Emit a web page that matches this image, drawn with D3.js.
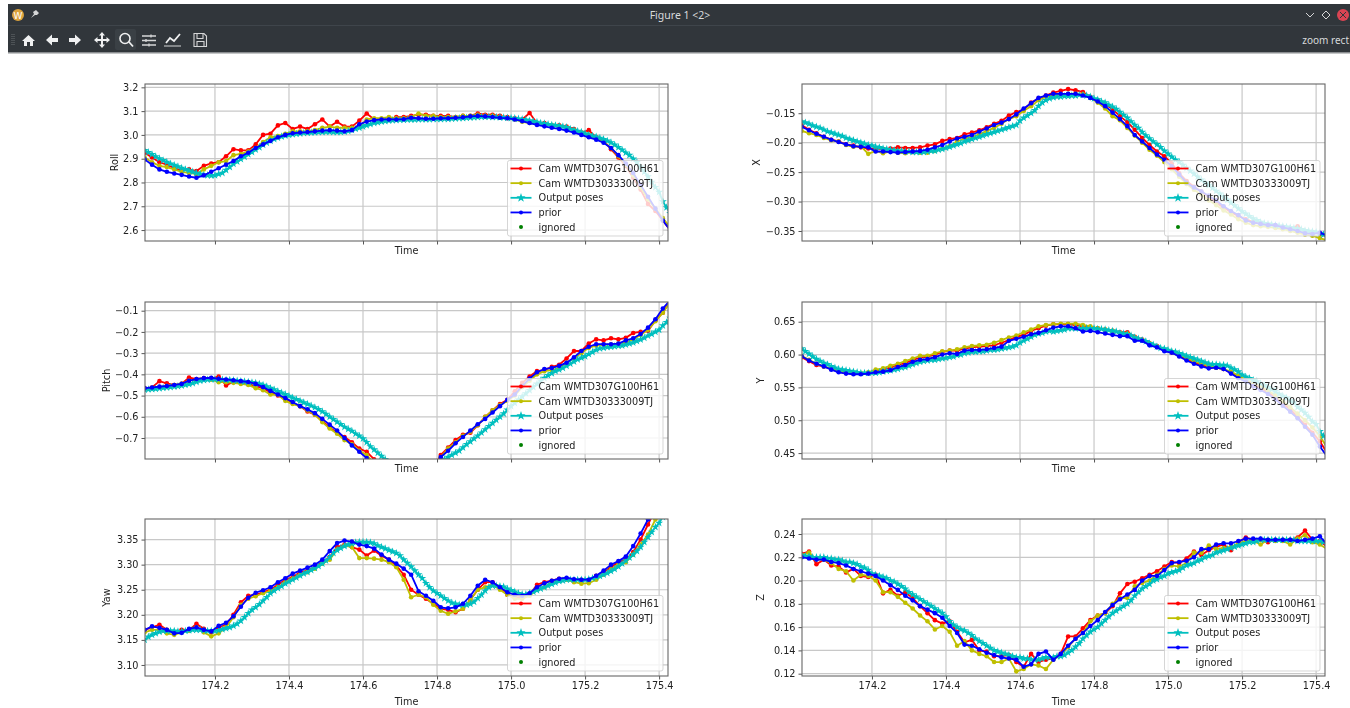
<!DOCTYPE html>
<html>
<head>
    <meta charset="utf-8">
    <title>Figure 1 &lt;2&gt;</title>
    <script src="https://d3js.org/d3.v7.min.js"></script>
</head>
<body style="margin: 0; background: #fff">
<svg width="1350" height="708" style="display: block; filter: blur(0.45px)"></svg>

<script>
    // Sample times (seconds)
    const camTimes = [174.01,174.03,174.05,174.07,174.09,174.11,174.13,174.15,174.17,174.19,174.21,174.23,174.25,174.27,174.29,174.31,174.33,174.35,174.37,174.39,174.41,174.43,174.45,174.47,174.49,174.51,174.53,174.55,174.57,174.59,174.61,174.63,174.65,174.67,174.69,174.71,174.73,174.75,174.77,174.79,174.81,174.83,174.85,174.87,174.89,174.91,174.93,174.95,174.97,174.99,175.01,175.03,175.05,175.07,175.09,175.11,175.13,175.15,175.17,175.19,175.21,175.23,175.25,175.27,175.29,175.31,175.33,175.35,175.37,175.39,175.41,175.43];
    const poseTimes = [174.01,174.02,174.03,174.04,174.05,174.06,174.07,174.08,174.09,174.10,174.11,174.12,174.13,174.14,174.15,174.16,174.17,174.18,174.19,174.20,174.21,174.22,174.23,174.24,174.25,174.26,174.27,174.28,174.29,174.30,174.31,174.32,174.33,174.34,174.35,174.36,174.37,174.38,174.39,174.40,174.41,174.42,174.43,174.44,174.45,174.46,174.47,174.48,174.49,174.50,174.51,174.52,174.53,174.54,174.55,174.56,174.57,174.58,174.59,174.60,174.61,174.62,174.63,174.64,174.65,174.66,174.67,174.68,174.69,174.70,174.71,174.72,174.73,174.74,174.75,174.76,174.77,174.78,174.79,174.80,174.81,174.82,174.83,174.84,174.85,174.86,174.87,174.88,174.89,174.90,174.91,174.92,174.93,174.94,174.95,174.96,174.97,174.98,174.99,175.00,175.01,175.02,175.03,175.04,175.05,175.06,175.07,175.08,175.09,175.10,175.11,175.12,175.13,175.14,175.15,175.16,175.17,175.18,175.19,175.20,175.21,175.22,175.23,175.24,175.25,175.26,175.27,175.28,175.29,175.30,175.31,175.32,175.33,175.34,175.35,175.36,175.37,175.38,175.39,175.40,175.41,175.42,175.43];

    const legendLabels = ["Cam WMTD307G100H61", "Cam WMTD30333009TJ", "Output poses", "prior", "ignored"];
    const timeTicks = [174.2, 174.4, 174.6, 174.8, 175.0, 175.2, 175.4];

    // Roll
    const rollTicks = [2.6, 2.7, 2.8, 2.9, 3.0, 3.1, 3.2];
    const rollCamA = [2.925,2.905,2.885,2.875,2.86,2.85,2.855,2.848,2.87,2.88,2.885,2.91,2.94,2.935,2.935,2.96,3.0,3.005,3.04,3.05,3.025,3.035,3.025,3.045,3.065,3.035,3.055,3.035,3.035,3.06,3.09,3.065,3.065,3.065,3.075,3.075,3.08,3.085,3.085,3.08,3.08,3.08,3.075,3.08,3.08,3.09,3.085,3.085,3.08,3.075,3.07,3.065,3.092,3.05,3.05,3.04,3.04,3.035,3.025,3.01,3.02,2.99,2.975,2.94,2.905,2.87,2.82,2.77,2.71,2.68,2.64,2.6];
    const rollCamB = [2.905,2.885,2.87,2.865,2.855,2.845,2.84,2.835,2.855,2.87,2.885,2.89,2.915,2.92,2.93,2.945,2.97,2.99,2.995,3.005,3.015,3.015,3.015,3.02,3.03,3.035,3.03,3.03,3.03,3.035,3.065,3.07,3.07,3.075,3.07,3.07,3.075,3.09,3.08,3.08,3.075,3.075,3.075,3.08,3.08,3.085,3.08,3.08,3.075,3.07,3.065,3.055,3.05,3.05,3.045,3.04,3.035,3.03,3.02,3.01,3.0,2.985,2.97,2.945,2.91,2.875,2.83,2.78,2.73,2.69,2.65,2.61];
    const rollPoses = [2.935,2.927,2.918,2.909,2.901,2.893,2.886,2.879,2.873,2.867,2.861,2.855,2.85,2.845,2.84,2.836,2.832,2.83,2.829,2.83,2.835,2.84,2.852,2.865,2.878,2.888,2.898,2.908,2.918,2.928,2.938,2.948,2.958,2.967,2.975,2.982,2.988,2.993,2.997,3.0,3.002,3.004,3.006,3.008,3.009,3.01,3.011,3.012,3.012,3.013,3.013,3.012,3.012,3.012,3.014,3.016,3.02,3.025,3.03,3.035,3.04,3.045,3.05,3.053,3.056,3.058,3.06,3.061,3.062,3.063,3.063,3.064,3.064,3.064,3.065,3.065,3.065,3.065,3.066,3.066,3.066,3.067,3.067,3.068,3.069,3.07,3.071,3.072,3.073,3.074,3.075,3.076,3.076,3.076,3.075,3.075,3.074,3.073,3.072,3.071,3.07,3.068,3.066,3.064,3.06,3.057,3.054,3.05,3.048,3.045,3.042,3.04,3.038,3.035,3.032,3.025,3.02,3.016,3.012,3.006,3.0,2.996,2.992,2.987,2.982,2.975,2.968,2.958,2.948,2.937,2.925,2.915,2.9,2.885,2.865,2.845,2.825,2.802,2.78,2.76,2.72,2.695,2.67];
    const rollPrior = [2.897,2.875,2.855,2.845,2.838,2.832,2.825,2.82,2.83,2.845,2.86,2.875,2.89,2.91,2.925,2.945,2.96,2.975,2.99,3.0,3.007,3.01,3.012,3.015,3.018,3.02,3.018,3.015,3.02,3.045,3.056,3.062,3.065,3.065,3.065,3.066,3.072,3.07,3.068,3.068,3.07,3.07,3.072,3.074,3.078,3.08,3.078,3.075,3.072,3.07,3.065,3.058,3.05,3.042,3.036,3.03,3.025,3.018,3.01,3.0,2.99,2.98,2.967,2.945,2.915,2.88,2.84,2.79,2.74,2.69,2.64,2.6];

    // Pitch
    const pitchTicks = [-0.7, -0.6, -0.5, -0.4, -0.3, -0.2, -0.1];
    const pitchCamA = [-0.465,-0.462,-0.432,-0.442,-0.45,-0.445,-0.415,-0.422,-0.418,-0.42,-0.41,-0.452,-0.435,-0.44,-0.445,-0.455,-0.465,-0.485,-0.5,-0.515,-0.535,-0.55,-0.575,-0.59,-0.62,-0.65,-0.675,-0.695,-0.72,-0.75,-0.765,-0.8,-0.85,-0.9,-0.95,-0.99,-1.0,-0.97,-0.92,-0.85,-0.78,-0.745,-0.71,-0.685,-0.675,-0.64,-0.6,-0.57,-0.54,-0.52,-0.48,-0.44,-0.41,-0.385,-0.38,-0.365,-0.355,-0.325,-0.29,-0.29,-0.255,-0.235,-0.24,-0.23,-0.235,-0.228,-0.205,-0.2,-0.195,-0.145,-0.11,-0.05];
    const pitchCamB = [-0.47,-0.465,-0.46,-0.455,-0.45,-0.445,-0.43,-0.425,-0.42,-0.425,-0.437,-0.437,-0.44,-0.445,-0.45,-0.465,-0.475,-0.495,-0.495,-0.525,-0.54,-0.55,-0.57,-0.59,-0.625,-0.655,-0.68,-0.71,-0.73,-0.76,-0.78,-0.82,-0.87,-0.92,-0.96,-0.99,-1.0,-0.97,-0.92,-0.85,-0.79,-0.75,-0.72,-0.69,-0.67,-0.64,-0.6,-0.57,-0.545,-0.525,-0.5,-0.46,-0.43,-0.4,-0.385,-0.38,-0.37,-0.345,-0.325,-0.3,-0.275,-0.265,-0.26,-0.26,-0.255,-0.25,-0.235,-0.215,-0.19,-0.15,-0.11,-0.06];
    const pitchPoses = [-0.472,-0.471,-0.47,-0.468,-0.466,-0.464,-0.462,-0.46,-0.458,-0.456,-0.453,-0.45,-0.446,-0.442,-0.436,-0.43,-0.427,-0.425,-0.424,-0.424,-0.424,-0.425,-0.426,-0.426,-0.428,-0.43,-0.432,-0.434,-0.436,-0.438,-0.441,-0.445,-0.45,-0.457,-0.465,-0.472,-0.48,-0.487,-0.494,-0.502,-0.51,-0.518,-0.525,-0.533,-0.54,-0.548,-0.556,-0.565,-0.575,-0.587,-0.6,-0.612,-0.624,-0.636,-0.648,-0.658,-0.667,-0.68,-0.69,-0.703,-0.72,-0.74,-0.755,-0.77,-0.785,-0.8,-0.83,-0.87,-0.91,-0.94,-0.97,-0.99,-1.0,-1.0,-0.99,-0.97,-0.94,-0.9,-0.86,-0.83,-0.815,-0.8,-0.79,-0.78,-0.77,-0.76,-0.745,-0.73,-0.717,-0.703,-0.69,-0.675,-0.66,-0.645,-0.63,-0.615,-0.6,-0.585,-0.567,-0.55,-0.535,-0.52,-0.505,-0.49,-0.475,-0.46,-0.445,-0.43,-0.418,-0.405,-0.395,-0.385,-0.378,-0.37,-0.36,-0.35,-0.34,-0.33,-0.322,-0.315,-0.305,-0.295,-0.285,-0.278,-0.275,-0.272,-0.27,-0.268,-0.266,-0.265,-0.26,-0.255,-0.25,-0.243,-0.236,-0.228,-0.218,-0.21,-0.2,-0.19,-0.17,-0.155,-0.135];
    const pitchPrior = [-0.465,-0.462,-0.458,-0.455,-0.45,-0.445,-0.43,-0.422,-0.418,-0.416,-0.421,-0.424,-0.428,-0.432,-0.436,-0.445,-0.46,-0.478,-0.495,-0.512,-0.53,-0.55,-0.565,-0.583,-0.61,-0.637,-0.665,-0.7,-0.735,-0.765,-0.795,-0.83,-0.875,-0.92,-0.96,-0.99,-1.0,-0.98,-0.93,-0.86,-0.79,-0.76,-0.725,-0.695,-0.665,-0.635,-0.61,-0.58,-0.55,-0.52,-0.495,-0.455,-0.42,-0.39,-0.375,-0.37,-0.36,-0.345,-0.32,-0.29,-0.27,-0.258,-0.258,-0.258,-0.255,-0.24,-0.23,-0.21,-0.18,-0.14,-0.09,-0.05];

    // Yaw
    const yawTicks = [3.10, 3.15, 3.20, 3.25, 3.30, 3.35];
    const yawCamA = [3.17,3.175,3.18,3.17,3.165,3.17,3.17,3.182,3.172,3.165,3.175,3.18,3.2,3.225,3.238,3.24,3.245,3.25,3.26,3.27,3.275,3.285,3.288,3.295,3.305,3.315,3.335,3.34,3.335,3.33,3.318,3.328,3.318,3.31,3.298,3.28,3.25,3.24,3.232,3.222,3.212,3.21,3.205,3.212,3.23,3.25,3.265,3.265,3.255,3.24,3.235,3.235,3.24,3.26,3.265,3.268,3.272,3.272,3.27,3.27,3.27,3.278,3.285,3.295,3.305,3.31,3.325,3.35,3.38,3.41,3.44,3.47];
    const yawCamB = [3.165,3.17,3.17,3.163,3.16,3.165,3.168,3.175,3.165,3.157,3.163,3.175,3.195,3.22,3.232,3.237,3.243,3.248,3.255,3.265,3.272,3.28,3.285,3.292,3.302,3.31,3.33,3.338,3.335,3.313,3.313,3.312,3.31,3.305,3.295,3.27,3.235,3.24,3.235,3.22,3.208,3.202,3.207,3.212,3.23,3.25,3.255,3.26,3.25,3.24,3.232,3.232,3.238,3.25,3.255,3.265,3.268,3.27,3.265,3.262,3.263,3.27,3.28,3.29,3.3,3.305,3.32,3.34,3.36,3.39,3.42,3.45];
    const yawPoses = [3.15,3.156,3.16,3.163,3.166,3.168,3.168,3.168,3.168,3.167,3.167,3.168,3.169,3.17,3.17,3.17,3.169,3.168,3.168,3.168,3.169,3.171,3.173,3.175,3.178,3.182,3.188,3.195,3.203,3.21,3.215,3.221,3.228,3.235,3.243,3.248,3.253,3.257,3.262,3.266,3.27,3.274,3.278,3.282,3.285,3.289,3.293,3.297,3.302,3.308,3.315,3.323,3.329,3.333,3.337,3.34,3.342,3.344,3.345,3.345,3.345,3.344,3.342,3.338,3.335,3.332,3.329,3.326,3.323,3.318,3.31,3.303,3.296,3.288,3.28,3.273,3.263,3.255,3.248,3.243,3.238,3.233,3.228,3.224,3.222,3.22,3.22,3.22,3.222,3.226,3.233,3.24,3.248,3.255,3.258,3.258,3.257,3.256,3.252,3.249,3.246,3.243,3.241,3.241,3.243,3.246,3.249,3.252,3.255,3.258,3.261,3.264,3.267,3.268,3.27,3.27,3.27,3.27,3.27,3.27,3.271,3.273,3.275,3.277,3.28,3.283,3.287,3.291,3.296,3.302,3.308,3.314,3.32,3.327,3.335,3.345,3.355,3.365,3.375,3.383,3.395,3.41,3.425];
    const yawPrior = [3.17,3.177,3.174,3.17,3.163,3.164,3.172,3.175,3.17,3.167,3.178,3.184,3.197,3.216,3.234,3.244,3.249,3.255,3.265,3.273,3.282,3.288,3.294,3.3,3.31,3.327,3.343,3.348,3.346,3.34,3.337,3.332,3.32,3.31,3.302,3.292,3.28,3.247,3.238,3.228,3.215,3.213,3.215,3.222,3.238,3.258,3.27,3.265,3.255,3.245,3.24,3.238,3.243,3.255,3.263,3.268,3.272,3.274,3.271,3.27,3.27,3.278,3.288,3.3,3.307,3.316,3.337,3.362,3.39,3.42,3.45,3.48];

    // X
    const xTicks = [-0.35, -0.30, -0.25, -0.20, -0.15];
    const xCamA = [-0.17,-0.178,-0.184,-0.19,-0.195,-0.198,-0.203,-0.205,-0.208,-0.21,-0.21,-0.211,-0.21,-0.208,-0.209,-0.209,-0.208,-0.205,-0.203,-0.197,-0.194,-0.192,-0.186,-0.183,-0.179,-0.174,-0.168,-0.163,-0.154,-0.148,-0.144,-0.132,-0.125,-0.12,-0.115,-0.112,-0.109,-0.111,-0.114,-0.122,-0.128,-0.135,-0.143,-0.155,-0.165,-0.178,-0.192,-0.204,-0.215,-0.223,-0.235,-0.252,-0.265,-0.275,-0.283,-0.292,-0.302,-0.31,-0.318,-0.325,-0.33,-0.335,-0.338,-0.34,-0.341,-0.343,-0.346,-0.342,-0.35,-0.352,-0.355,-0.36];
    const xCamB = [-0.18,-0.184,-0.187,-0.192,-0.196,-0.198,-0.204,-0.207,-0.206,-0.219,-0.214,-0.218,-0.215,-0.217,-0.218,-0.216,-0.217,-0.217,-0.214,-0.21,-0.206,-0.198,-0.193,-0.19,-0.186,-0.18,-0.175,-0.168,-0.16,-0.155,-0.146,-0.138,-0.128,-0.122,-0.12,-0.118,-0.117,-0.117,-0.118,-0.124,-0.132,-0.142,-0.155,-0.162,-0.175,-0.188,-0.2,-0.212,-0.222,-0.233,-0.245,-0.258,-0.27,-0.28,-0.288,-0.298,-0.306,-0.315,-0.322,-0.33,-0.336,-0.34,-0.342,-0.343,-0.345,-0.347,-0.35,-0.353,-0.356,-0.358,-0.362,-0.366];
    const xPoses = [-0.164,-0.166,-0.168,-0.171,-0.173,-0.175,-0.178,-0.181,-0.183,-0.185,-0.187,-0.189,-0.192,-0.194,-0.196,-0.198,-0.2,-0.202,-0.204,-0.205,-0.207,-0.208,-0.21,-0.211,-0.212,-0.213,-0.214,-0.214,-0.215,-0.215,-0.216,-0.216,-0.216,-0.216,-0.215,-0.214,-0.214,-0.212,-0.211,-0.209,-0.207,-0.205,-0.203,-0.201,-0.198,-0.196,-0.194,-0.192,-0.19,-0.188,-0.186,-0.184,-0.182,-0.18,-0.178,-0.176,-0.174,-0.172,-0.17,-0.163,-0.158,-0.154,-0.15,-0.145,-0.138,-0.132,-0.128,-0.125,-0.123,-0.122,-0.122,-0.121,-0.121,-0.12,-0.12,-0.119,-0.119,-0.12,-0.122,-0.125,-0.127,-0.13,-0.132,-0.136,-0.139,-0.143,-0.148,-0.153,-0.158,-0.164,-0.17,-0.175,-0.182,-0.188,-0.193,-0.198,-0.203,-0.208,-0.214,-0.219,-0.224,-0.229,-0.233,-0.238,-0.243,-0.248,-0.253,-0.258,-0.263,-0.268,-0.272,-0.277,-0.282,-0.287,-0.292,-0.297,-0.302,-0.307,-0.312,-0.317,-0.321,-0.325,-0.329,-0.332,-0.335,-0.337,-0.338,-0.339,-0.34,-0.341,-0.342,-0.343,-0.344,-0.345,-0.346,-0.347,-0.349,-0.35,-0.351,-0.352,-0.354,-0.356,-0.358];
    const xPrior = [-0.173,-0.179,-0.185,-0.19,-0.195,-0.199,-0.203,-0.206,-0.207,-0.208,-0.215,-0.215,-0.216,-0.217,-0.216,-0.215,-0.214,-0.212,-0.208,-0.204,-0.198,-0.193,-0.19,-0.187,-0.181,-0.176,-0.17,-0.166,-0.16,-0.152,-0.142,-0.133,-0.124,-0.12,-0.117,-0.117,-0.117,-0.117,-0.12,-0.124,-0.13,-0.138,-0.149,-0.16,-0.172,-0.187,-0.198,-0.209,-0.22,-0.229,-0.24,-0.254,-0.268,-0.276,-0.283,-0.29,-0.298,-0.308,-0.316,-0.323,-0.332,-0.336,-0.338,-0.34,-0.34,-0.344,-0.347,-0.35,-0.354,-0.355,-0.353,-0.358];

    // Y
    const yTicks = [0.45, 0.50, 0.55, 0.60, 0.65];
    const yCamA = [0.596,0.59,0.584,0.582,0.578,0.575,0.572,0.571,0.571,0.572,0.575,0.577,0.58,0.584,0.587,0.592,0.595,0.597,0.6,0.604,0.606,0.606,0.609,0.611,0.612,0.613,0.614,0.618,0.622,0.627,0.63,0.636,0.64,0.644,0.646,0.646,0.646,0.645,0.643,0.642,0.64,0.638,0.636,0.634,0.634,0.627,0.623,0.617,0.613,0.607,0.603,0.598,0.593,0.588,0.584,0.581,0.58,0.578,0.572,0.566,0.56,0.555,0.55,0.542,0.535,0.525,0.517,0.505,0.493,0.481,0.468,0.45];
    const yCamB = [0.598,0.592,0.586,0.582,0.578,0.575,0.572,0.572,0.572,0.573,0.577,0.579,0.583,0.586,0.59,0.594,0.598,0.598,0.602,0.605,0.606,0.608,0.611,0.613,0.614,0.615,0.618,0.622,0.626,0.629,0.634,0.638,0.643,0.645,0.646,0.647,0.647,0.647,0.645,0.643,0.64,0.638,0.636,0.633,0.632,0.626,0.622,0.617,0.612,0.607,0.604,0.6,0.595,0.59,0.586,0.583,0.58,0.578,0.574,0.568,0.562,0.557,0.552,0.545,0.538,0.529,0.52,0.51,0.5,0.489,0.476,0.458];
    const yPoses = [0.609,0.605,0.601,0.597,0.593,0.59,0.587,0.585,0.582,0.58,0.578,0.577,0.576,0.575,0.574,0.573,0.572,0.572,0.572,0.572,0.572,0.573,0.574,0.575,0.576,0.577,0.578,0.58,0.581,0.583,0.585,0.587,0.589,0.59,0.591,0.592,0.592,0.593,0.594,0.595,0.596,0.597,0.599,0.6,0.602,0.603,0.604,0.604,0.605,0.605,0.606,0.607,0.607,0.608,0.609,0.61,0.611,0.612,0.614,0.618,0.621,0.624,0.627,0.63,0.632,0.633,0.635,0.636,0.635,0.636,0.637,0.638,0.64,0.64,0.64,0.64,0.64,0.64,0.64,0.64,0.639,0.639,0.638,0.637,0.636,0.635,0.633,0.632,0.631,0.629,0.626,0.624,0.622,0.62,0.617,0.615,0.612,0.61,0.609,0.607,0.605,0.604,0.602,0.6,0.598,0.596,0.594,0.592,0.59,0.588,0.586,0.585,0.585,0.584,0.584,0.583,0.58,0.577,0.574,0.569,0.566,0.564,0.561,0.559,0.556,0.553,0.55,0.547,0.544,0.54,0.537,0.534,0.53,0.527,0.52,0.516,0.511,0.505,0.498,0.494,0.483,0.476,0.47];
    const yPrior = [0.5975,0.591,0.586,0.582,0.577,0.573,0.571,0.57,0.57,0.571,0.573,0.574,0.576,0.581,0.584,0.589,0.592,0.593,0.596,0.6,0.602,0.601,0.606,0.607,0.607,0.608,0.61,0.612,0.621,0.624,0.627,0.631,0.633,0.637,0.641,0.643,0.643,0.64,0.635,0.636,0.634,0.632,0.63,0.628,0.628,0.621,0.621,0.614,0.611,0.605,0.603,0.597,0.591,0.586,0.582,0.579,0.58,0.578,0.571,0.564,0.559,0.552,0.546,0.54,0.532,0.522,0.513,0.503,0.49,0.478,0.46,0.445];

    // Z
    const zTicks = [0.12, 0.14, 0.16, 0.18, 0.20, 0.22, 0.24];
    const zCamA = [0.223,0.225,0.214,0.218,0.213,0.212,0.207,0.21,0.204,0.203,0.205,0.189,0.192,0.187,0.19,0.185,0.178,0.172,0.166,0.163,0.165,0.156,0.147,0.149,0.14,0.139,0.135,0.135,0.136,0.13,0.126,0.137,0.13,0.132,0.133,0.137,0.152,0.152,0.159,0.166,0.17,0.172,0.178,0.189,0.197,0.199,0.202,0.205,0.208,0.212,0.216,0.215,0.219,0.225,0.222,0.226,0.229,0.231,0.226,0.233,0.237,0.235,0.235,0.233,0.235,0.235,0.235,0.237,0.243,0.235,0.234,0.229];
    const zCamB = [0.222,0.224,0.218,0.218,0.215,0.21,0.208,0.2,0.205,0.204,0.2,0.19,0.19,0.186,0.181,0.176,0.17,0.165,0.158,0.161,0.156,0.144,0.148,0.14,0.137,0.135,0.13,0.13,0.133,0.122,0.124,0.128,0.127,0.124,0.132,0.136,0.143,0.15,0.155,0.165,0.17,0.172,0.18,0.185,0.185,0.195,0.198,0.2,0.205,0.21,0.213,0.212,0.215,0.224,0.224,0.23,0.227,0.228,0.229,0.232,0.234,0.234,0.231,0.235,0.234,0.234,0.231,0.236,0.239,0.233,0.231,0.227];
    const zPoses = [0.222,0.221,0.221,0.22,0.22,0.22,0.22,0.219,0.219,0.218,0.218,0.217,0.216,0.216,0.215,0.214,0.212,0.211,0.209,0.206,0.205,0.204,0.203,0.202,0.2,0.199,0.197,0.195,0.193,0.19,0.188,0.186,0.184,0.182,0.18,0.178,0.176,0.174,0.172,0.169,0.165,0.162,0.16,0.158,0.157,0.155,0.153,0.15,0.148,0.146,0.144,0.142,0.14,0.139,0.138,0.137,0.136,0.135,0.134,0.134,0.133,0.133,0.132,0.132,0.132,0.133,0.134,0.134,0.134,0.135,0.135,0.136,0.138,0.14,0.143,0.146,0.15,0.153,0.156,0.158,0.16,0.163,0.166,0.169,0.172,0.174,0.176,0.178,0.18,0.183,0.187,0.19,0.193,0.195,0.197,0.2,0.201,0.203,0.204,0.206,0.207,0.208,0.209,0.211,0.213,0.214,0.215,0.217,0.218,0.22,0.221,0.222,0.224,0.225,0.226,0.227,0.228,0.229,0.23,0.231,0.232,0.233,0.233,0.234,0.235,0.235,0.235,0.235,0.235,0.235,0.235,0.235,0.235,0.235,0.234,0.234,0.234,0.234,0.234,0.234,0.234,0.233,0.232];
    const zPrior = [0.22,0.219,0.218,0.218,0.216,0.215,0.213,0.21,0.208,0.206,0.204,0.2,0.196,0.192,0.187,0.183,0.178,0.175,0.172,0.168,0.161,0.155,0.145,0.144,0.141,0.138,0.136,0.134,0.133,0.132,0.126,0.128,0.137,0.139,0.132,0.137,0.144,0.15,0.155,0.161,0.166,0.173,0.179,0.184,0.188,0.192,0.2,0.204,0.204,0.209,0.215,0.216,0.217,0.22,0.227,0.227,0.231,0.232,0.232,0.234,0.236,0.236,0.236,0.235,0.235,0.235,0.235,0.234,0.235,0.236,0.238,0.231];

    const colors = { camA: "#ff0000", camB: "#bfbf00", poses: "#00bfbf", prior: "#0000ff", ignored: "#008000" };
    const font = "'DejaVu Sans', sans-serif";

    const svg = d3.select("svg");

    // Window chrome
    const chrome = svg.append("g");
    chrome.append("rect").attr("x", 8).attr("y", 4).attr("width", 1342).attr("height", 49).attr("fill", "#31363b");
    chrome.append("rect").attr("x", 8).attr("y", 25).attr("width", 1342).attr("height", 1).attr("fill", "#3f454b");
    chrome.append("rect").attr("x", 8).attr("y", 52).attr("width", 1342).attr("height", 1.5).attr("fill", "#8a8d90");
    chrome.append("circle").attr("cx", 18).attr("cy", 15).attr("r", 6).attr("fill", "#dba23d");
    chrome.append("text").attr("x", 18).attr("y", 18.5).attr("text-anchor", "middle").attr("font-size", "9px")
        .attr("font-family", font).attr("fill", "#fff").text("W");
    chrome.append("path").attr("d", "M31,18 L34,14 L33,12 L36,10 L39,13 L37,15 L35,15 Z").attr("fill", "#d5d6d7");
    chrome.append("text").attr("x", 680).attr("y", 19).attr("text-anchor", "middle").attr("font-size", "10.5px")
        .attr("font-family", "'Noto Sans', sans-serif").attr("fill", "#d8dadb").text("Figure 1 <2>");
    chrome.append("text").attr("x", 1349).attr("y", 44).attr("text-anchor", "end").attr("font-size", "10px")
        .attr("font-family", "'Noto Sans', sans-serif").attr("fill", "#d8dadb").text("zoom rect");
    chrome.append("path").attr("d", "M1306,13 L1310,17 L1314,13").attr("fill", "none").attr("stroke", "#d5d6d7");
    chrome.append("path").attr("d", "M1326,11 L1330,15 L1326,19 L1322,15 Z").attr("fill", "none").attr("stroke", "#d5d6d7");
    chrome.append("circle").attr("cx", 1343).attr("cy", 15).attr("r", 6).attr("fill", "#da4453");
    chrome.append("path").attr("d", "M1340,12 L1346,18 M1346,12 L1340,18").attr("stroke", "#31363b");
    chrome.append("rect").attr("x", 115).attr("y", 29).attr("width", 21).attr("height", 21).attr("rx", 2).attr("fill", "#3a4045");
    chrome.append("path").attr("d", "M12,34 V46 M14,34 V46").attr("stroke", "#6a6e72").attr("stroke-dasharray", "1 1");

    const icons = [
        "M22,41 L28.5,35 L35,41 L33,41 L33,46 L30,46 L30,42 L27,42 L27,46 L24,46 L24,41 Z",
        "M46,40 L52,34.5 L52,38 L58,38 L58,42 L52,42 L52,45.5 Z",
        "M81,40 L75,34.5 L75,38 L69,38 L69,42 L75,42 L75,45.5 Z",
        "M102,32 L105,35.5 L103,35.5 L103,39 L106.5,39 L106.5,37 L110,40 L106.5,43 L106.5,41 L103,41 L103,44.5 L105,44.5 L102,48 L99,44.5 L101,44.5 L101,41 L97.5,41 L97.5,43 L94,40 L97.5,37 L97.5,39 L101,39 L101,35.5 L99,35.5 Z"
    ];
    chrome.selectAll(".icon").data(icons).enter().append("path")
        .attr("class", "icon").attr("d", d => d).attr("fill", "#eff0f1");
    chrome.append("circle").attr("cx", 125).attr("cy", 38.5).attr("r", 5).attr("fill", "none").attr("stroke", "#eff0f1").attr("stroke-width", 1.6);
    chrome.append("path").attr("d", "M129,42 L133,46.5").attr("stroke", "#eff0f1").attr("stroke-width", 1.8);
    chrome.append("path").attr("d", "M142,36 H156 M142,40.5 H156 M142,45 H156 M151,34.5 V37.5 M146,39 V42 M149,43.5 V46.5")
        .attr("stroke", "#d5d6d7").attr("stroke-width", 1.3).attr("fill", "none");
    chrome.append("path").attr("d", "M164,46 H181").attr("stroke", "#d5d6d7");
    chrome.append("path").attr("d", "M166,43 L170,38 L174,41 L180,34").attr("stroke", "#eff0f1").attr("stroke-width", 1.8).attr("fill", "none");
    chrome.append("path").attr("d", "M194,33.5 H204 L206.5,36 V46.5 H194 Z M197,33.5 V38.5 H203 V33.5 M197,46.5 V41.5 H204 V46.5")
        .attr("stroke", "#d5d6d7").attr("stroke-width", 1.1).attr("fill", "none");

    // Panel list, built from the arrays above
    const panels = [
        { name: "Roll", left: 145, top: 84, domain: [2.554, 3.214], ticks: rollTicks, fmt: ".1f", labelX: 114, s: [rollCamA, rollCamB, rollPoses, rollPrior] },
        { name: "Pitch", left: 145, top: 302, domain: [-0.799, -0.059], ticks: pitchTicks, fmt: ".1f", labelX: 106, s: [pitchCamA, pitchCamB, pitchPoses, pitchPrior] },
        { name: "Yaw", left: 145, top: 519, domain: [3.078, 3.391], ticks: yawTicks, fmt: ".2f", labelX: 106, s: [yawCamA, yawCamB, yawPoses, yawPrior], bottom: true },
        { name: "X", left: 802, top: 84, domain: [-0.367, -0.1004], ticks: xTicks, fmt: ".2f", labelX: 756, s: [xCamA, xCamB, xPoses, xPrior] },
        { name: "Y", left: 802, top: 302, domain: [0.441, 0.68], ticks: yTicks, fmt: ".2f", labelX: 760, s: [yCamA, yCamB, yPoses, yPrior] },
        { name: "Z", left: 802, top: 519, domain: [0.118, 0.2529], ticks: zTicks, fmt: ".2f", labelX: 760, s: [zCamA, zCamB, zPoses, zPrior], bottom: true }
    ];

    const plotW = 523;
    const plotH = 157;
    const textSize = "9.7px";

    panels.forEach((p, idx) => {
        const x = d3.scaleLinear().domain([174.011, 175.424]).range([0, plotW]);
        const y = d3.scaleLinear().domain(p.domain).range([plotH, 0]);
        const g = svg.append("g").attr("transform", `translate(${p.left},${p.top})`);

        svg.append("clipPath").attr("id", "clip" + idx).append("rect").attr("x", p.left).attr("y", p.top).attr("width", plotW).attr("height", plotH);

        // Grid
        g.selectAll(".vgrid").data(timeTicks).enter().append("line")
            .attr("x1", d => x(d)).attr("x2", d => x(d)).attr("y1", 0).attr("y2", plotH)
            .attr("stroke", "#c8c8c8").attr("stroke-width", 1.2);
        g.selectAll(".hgrid").data(p.ticks).enter().append("line")
            .attr("x1", 0).attr("x2", plotW).attr("y1", d => y(d)).attr("y2", d => y(d))
            .attr("stroke", "#c8c8c8").attr("stroke-width", 1.2);

        // Series
        const marks = svg.append("g").attr("clip-path", `url(#clip${idx})`)
            .append("g").attr("transform", `translate(${p.left},${p.top})`);
        const defs = [
            { v: p.s[0], t: camTimes, c: colors.camA },
            { v: p.s[1], t: camTimes, c: colors.camB },
            { v: p.s[2], t: poseTimes, c: colors.poses, star: true },
            { v: p.s[3], t: camTimes, c: colors.prior }
        ];
        defs.forEach(d => {
            const pts = d.v.map((v, i) => [d.t[i], v]);
            marks.append("path").attr("fill", "none").attr("stroke", d.c).attr("stroke-width", 1.8)
                .attr("d", d3.line().x(q => x(q[0])).y(q => y(q[1]))(pts));
            if (d.star) {
                marks.selectAll(".star").data(pts).enter().append("path").attr("class", "star")
                    .attr("transform", q => `translate(${x(q[0])},${y(q[1])})`)
                    .attr("d", d3.symbol().type(d3.symbolStar).size(20)).attr("fill", d.c);
            } else {
                marks.selectAll(".dot" + d.c.slice(1)).data(pts).enter().append("circle").attr("class", "dot" + d.c.slice(1))
                    .attr("cx", q => x(q[0])).attr("cy", q => y(q[1])).attr("r", 2.3).attr("fill", d.c);
            }
        });

        // Axes and legend go on top of the marks
        const top = svg.append("g").attr("transform", `translate(${p.left},${p.top})`);
        const xAxis = d3.axisBottom(x).tickValues(timeTicks).tickSize(3.5)
            .tickFormat(p.bottom ? d3.format(".1f") : "");
        const yAxis = d3.axisLeft(y).tickValues(p.ticks).tickSize(3.5).tickFormat(d3.format(p.fmt));
        [top.append("g").attr("transform", `translate(0,${plotH})`).call(xAxis), top.append("g").call(yAxis)].forEach(a => {
            a.select(".domain").remove();
            a.selectAll("line").attr("stroke", "#555");
            a.selectAll("text").attr("font-family", font).attr("font-size", textSize).attr("fill", "#222");
        });
        top.append("rect").attr("width", plotW).attr("height", plotH).attr("fill", "none").attr("stroke", "#666").attr("stroke-width", 1.1);

        top.append("text").attr("x", plotW / 2).attr("y", plotH + (p.bottom ? 28.5 : 12.5)).attr("text-anchor", "middle")
            .attr("font-family", font).attr("font-size", textSize).attr("fill", "#222").text("Time");
        svg.append("text").attr("transform", `translate(${p.labelX + 4},${p.top + plotH / 2}) rotate(-90)`)
            .attr("text-anchor", "middle").attr("font-family", font).attr("font-size", textSize).attr("fill", "#222").text(p.name);

        // Legend
        const lg = top.append("g").attr("transform", `translate(${plotW - 160.5},${plotH - 80.5})`);
        lg.append("rect").attr("width", 155.5).attr("height", 75.5).attr("rx", 2)
            .attr("fill", "#fff").attr("fill-opacity", 0.8).attr("stroke", "#ccc").attr("stroke-opacity", 0.8);
        const legendColors = [colors.camA, colors.camB, colors.poses, colors.prior, colors.ignored];
        legendLabels.forEach((name, i) => {
            const ly = 8 + i * 14.65;
            if (i < 4) lg.append("line").attr("x1", 3).attr("x2", 24).attr("y1", ly).attr("y2", ly).attr("stroke", legendColors[i]).attr("stroke-width", 1.8);
            if (i === 2) {
                lg.append("path").attr("transform", `translate(13.5,${ly})`).attr("d", d3.symbol().type(d3.symbolStar).size(26)).attr("fill", legendColors[i]);
            } else {
                lg.append("circle").attr("cx", 13.5).attr("cy", ly).attr("r", 2).attr("fill", legendColors[i]);
            }
            lg.append("text").attr("x", 31).attr("y", ly + 3.6).attr("font-family", font).attr("font-size", textSize).attr("fill", "#222").text(name);
        });
    });
</script>
</body>
</html>
